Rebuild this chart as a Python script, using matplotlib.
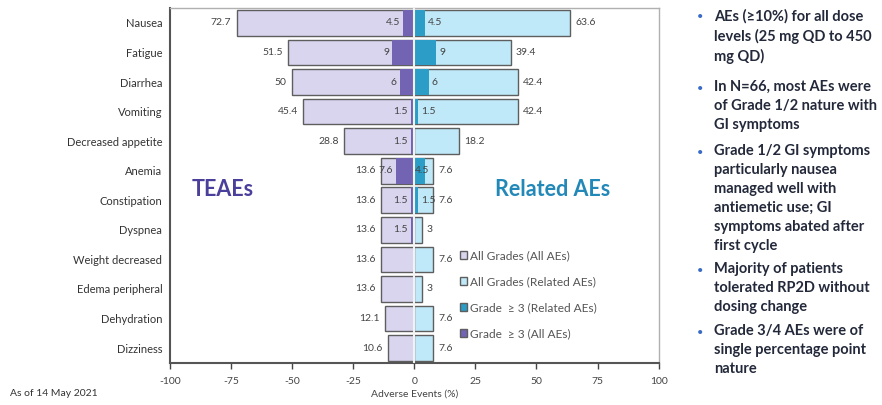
import numpy as np
import matplotlib.pyplot as plt
from matplotlib.patches import Patch

plt.rcParams['font.family'] = ['Lato', 'DejaVu Sans']

events = ["Nausea", "Fatigue", "Diarrhea", "Vomiting", "Decreased appetite",
          "Anemia", "Constipation", "Dyspnea", "Weight decreased",
          "Edema peripheral", "Dehydration", "Dizziness"]
all_any = [72.7, 51.5, 50, 45.4, 28.8, 13.6, 13.6, 13.6, 13.6, 13.6, 12.1, 10.6]
all_g3 = [4.5, 9, 6, 1.5, 1.5, 7.6, 1.5, 1.5, 0, 0, 0, 0]
rel_any = [63.6, 39.4, 42.4, 42.4, 18.2, 7.6, 7.6, 3, 7.6, 3, 7.6, 7.6]
rel_g3 = [4.5, 9, 6, 1.5, 0, 4.5, 1.5, 0, 0, 0, 0, 0]

C_LAV = "#d9d5ef"
C_PUR = "#7363b3"
C_CYAN = "#bfe9f8"
C_TEAL = "#2b9dc6"
C_EDGE = "#5e5e5e"

fig = plt.figure(figsize=(8.82, 4.05), dpi=100)
ax = fig.add_axes([0.1927, 0.104, 0.554, 0.876])

y = np.arange(len(events))
h = 0.87

ax.barh(y, [-v for v in all_any], height=h, color=C_LAV, edgecolor=C_EDGE, lw=1.0, zorder=2)
ax.barh(y, rel_any, height=h, color=C_CYAN, edgecolor=C_EDGE, lw=1.0, zorder=2)
ax.barh(y, [-v for v in all_g3], height=h, color=C_PUR, edgecolor="none", zorder=3)
ax.barh(y, rel_g3, height=h, color=C_TEAL, edgecolor="none", zorder=3)
ax.axvline(0, color="#f2f2f2", lw=1.5, zorder=4)

lab = dict(fontsize=7.5, color="#444444", va="center", zorder=5)
for i in range(len(events)):
    ax.text(-all_any[i] - 2.2, y[i], f"{all_any[i]:g}", ha="right", **lab)
    ax.text(rel_any[i] + 2.2, y[i], f"{rel_any[i]:g}", ha="left", **lab)
    if all_g3[i]:
        ax.text(-all_g3[i] - 1.2, y[i], f"{all_g3[i]:g}", ha="right", **lab)
    if rel_g3[i]:
        # short related bars: keep the grade 3 label inside the teal part
        xr = 0.3 if rel_any[i] - rel_g3[i] < 4 else rel_g3[i] + 1.2
        ax.text(xr, y[i], f"{rel_g3[i]:g}", ha="left", **lab)

ax.set_xlim(-100, 100)
ax.set_ylim(len(events) - 0.5, -0.5)
ax.set_xticks(np.arange(-100, 101, 25))
ax.set_xticklabels([f"{v}" for v in range(-100, 101, 25)])
ax.set_yticks(y)
ax.set_yticklabels(events)
ax.tick_params(axis="x", labelsize=7.5, colors="#444444", length=4, width=1, pad=6)
ax.tick_params(axis="y", labelsize=8, colors="#333333", length=0, pad=5.5)
for s in ["left", "bottom"]:
    ax.spines[s].set_color("#555555")
    ax.spines[s].set_linewidth(1.5)
for s in ["top", "right"]:
    ax.spines[s].set_color("#b0b0b0")
    ax.spines[s].set_linewidth(1.0)
ax.set_xlabel("Adverse Events (%)", fontsize=7.5, color="#444444", labelpad=3)

ax.text(-91, 5.65, "TEAEs", fontsize=15.5, fontweight="bold", color="#4b3f9c", va="center")
ax.text(33, 5.65, "Related AEs", fontsize=15.5, fontweight="bold", color="#2288b8", va="center")

handles = [Patch(facecolor=C_LAV, edgecolor=C_EDGE),
           Patch(facecolor=C_CYAN, edgecolor=C_EDGE),
           Patch(facecolor=C_TEAL, edgecolor=C_EDGE),
           Patch(facecolor=C_PUR, edgecolor=C_EDGE)]
names = ["All Grades (All AEs)", "All Grades (Related AEs)",
         "Grade  \u2265 3 (Related AEs)", "Grade  \u2265 3 (All AEs)"]
leg = ax.legend(handles, names, loc="upper left", bbox_to_anchor=(0.583, 0.331),
                frameon=False, fontsize=8.6, handlelength=0.6, handleheight=0.6,
                handletextpad=0.25, labelspacing=1.25, borderaxespad=0)
for t in leg.get_texts():
    t.set_color("#555555")

fig.text(10 / 882, 1 - 394 / 405, "As of 14 May 2021", fontsize=7.5, color="#333333", va="center")

bullets = [
    "AEs (\u226510%) for all dose\nlevels (25 mg QD to 450\nmg QD)",
    "In N=66, most AEs were\nof Grade 1/2 nature with\nGI symptoms",
    "Grade 1/2 GI symptoms\nparticularly nausea\nmanaged well with\nantiemetic use; GI\nsymptoms abated after\nfirst cycle",
    "Majority of patients\ntolerated RP2D without\ndosing change",
    "Grade 3/4 AEs were of\nsingle percentage point\nnature",
]
tops = [17, 88, 152, 270, 332]
for txt, yt in zip(bullets, tops):
    fig.text(700 / 882, 1 - yt / 405, "\u2022", fontsize=8, color="#3a6bc4", va="center", ha="center")
    fig.text(714 / 882, 1 - (yt - 8) / 405, txt, fontsize=10.5, fontweight="bold",
             color="#23293a", va="top", ha="left", linespacing=1.45)

fig.savefig("out.png", dpi=100)
